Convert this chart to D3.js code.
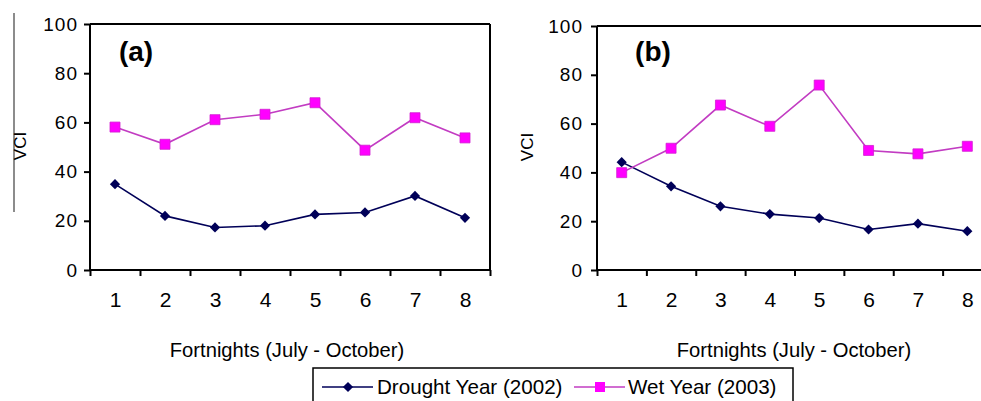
<!DOCTYPE html>
<html><head><meta charset="utf-8">
<script src="https://cdn.jsdelivr.net/npm/d3@7"></script>
<style>html,body{margin:0;padding:0;background:#fff;overflow:hidden}svg{display:block}text{font-family:Arial,"Liberation Sans",sans-serif;fill:#000}</style>
</head><body>
<script>
const categories = [1,2,3,4,5,6,7,8];
const yTicks = [0,20,40,60,80,100];
const droughtA = [34.9,22.0,17.3,18.0,22.6,23.4,30.1,21.2];
const wetA     = [58.1,51.1,61.1,63.3,68.0,48.7,61.9,53.7];
const droughtB = [44.2,34.3,26.1,22.9,21.3,16.6,19.0,15.9];
const wetB     = [39.9,49.9,67.6,58.9,75.8,49.0,47.6,50.7];
const panelLabels = ["(a)","(b)"];
const xTitle = "Fortnights (July - October)";
const yTitle = "VCI";
const seriesNames = ["Drought Year (2002)","Wet Year (2003)"];
const droughtColor = "#000058", wetLine = "#c23cc2", wetFill = "#ff00ff";

const svg = d3.select("body").append("svg").attr("width",981).attr("height",401);
svg.append("rect").attr("width",981).attr("height",401).attr("fill","#fff");

// stray border artifact at far left
svg.append("line").attr("x1",14).attr("x2",14).attr("y1",13).attr("y2",212)
  .attr("stroke","#666").attr("stroke-width",1.5);

const panels = [
  {x0:90, x1:490, yt:24, yb:270, drought:droughtA, wet:wetA, label:panelLabels[0], lx:136, ytx:20, ylabGap:10, yc:146},
  {x0:597, x1:992, yt:26, yb:270, drought:droughtB, wet:wetB, label:panelLabels[1], lx:653, ytx:527, ylabGap:12, yc:147}
];

const diamond = d3.symbol().type(d3.symbolSquare).size(52);
const square = d3.symbol().type(d3.symbolSquare).size(100);

panels.forEach(p => {
  const g = svg.append("g");
  const y = d3.scaleLinear().domain([0,100]).range([p.yb,p.yt]);
  const xl = d3.scaleLinear().domain([0.5,8.5]).range([p.x0,p.x1]);

  // border top & right
  g.append("line").attr("x1",p.x0).attr("x2",p.x1).attr("y1",y(100)).attr("y2",y(100)).attr("stroke","#000").attr("stroke-width",2);
  g.append("line").attr("x1",p.x1).attr("x2",p.x1).attr("y1",y(100)).attr("y2",p.yb).attr("stroke","#000").attr("stroke-width",2);

  // y axis
  const ya = g.append("g").attr("transform",`translate(${p.x0},0)`)
    .call(d3.axisLeft(y).tickValues(yTicks).tickSize(6).tickPadding(p.ylabGap-4));
  ya.selectAll("text").attr("font-size",19).attr("letter-spacing",1).attr("font-family","Arial, Liberation Sans, sans-serif").attr("fill","#000");
  ya.selectAll("line,path").attr("stroke","#000").attr("stroke-width",2);
  ya.select(".domain").attr("d",`M0,${y(100)}V${p.yb}`);

  // x axis tick marks at band boundaries
  const xa = g.append("g").attr("transform",`translate(0,${p.yb})`)
    .call(d3.axisBottom(xl).tickValues(d3.range(0.5,9,1)).tickSize(6).tickFormat(""));
  xa.selectAll("line,path").attr("stroke","#000").attr("stroke-width",2);
  xa.select(".domain").attr("d",`M${p.x0},0H${p.x1}`);
  // x labels
  const xb = g.append("g").attr("transform",`translate(0,${p.yb})`)
    .call(d3.axisBottom(xl).tickValues(categories).tickSize(0).tickPadding(22).tickFormat(d3.format("d")));
  xb.select(".domain").remove();
  xb.selectAll("text").attr("font-size",21).attr("font-family","Arial, Liberation Sans, sans-serif").attr("fill","#000");

  // titles
  g.append("text").attr("x",p.x0 + 197).attr("y",357).attr("text-anchor","middle")
    .attr("font-size",20.2).text(xTitle);
  g.append("text").attr("transform",`translate(${p.ytx+6},${p.yc}) rotate(-90)`)
    .attr("text-anchor","middle").attr("font-size",17).text(yTitle);
  g.append("text").attr("x",p.lx).attr("y",61).attr("text-anchor","middle")
    .attr("font-size",28).attr("font-weight","bold").text(p.label);

  const line = d3.line().x((d,i)=>xl(categories[i])).y(d=>y(d));
  g.append("path").datum(p.drought).attr("d",line).attr("fill","none").attr("stroke",droughtColor).attr("stroke-width",1.6);
  g.append("path").datum(p.wet).attr("d",line).attr("fill","none").attr("stroke",wetLine).attr("stroke-width",1.6);
  g.selectAll(".dm").data(p.drought).join("path").attr("d",diamond)
    .attr("transform",(d,i)=>`translate(${xl(categories[i])},${y(d)}) rotate(45)`).attr("fill",droughtColor);
  g.selectAll(".sq").data(p.wet).join("path").attr("d",square)
    .attr("transform",(d,i)=>`translate(${xl(categories[i])},${y(d)})`).attr("fill",wetFill).attr("stroke","#d020d0").attr("stroke-width",0.8);
});

// legend
const lg = svg.append("g");
lg.append("rect").attr("x",313).attr("y",368).attr("width",480).attr("height",44).attr("fill","#fff").attr("stroke","#000").attr("stroke-width",1.5);
const items = [
  {name:seriesNames[0], x:322, color:droughtColor, sym:diamond, fill:droughtColor, tx:377, rot:45},
  {name:seriesNames[1], x:574, color:wetLine, sym:square, fill:wetFill, tx:628, rot:0}
];
items.forEach(it => {
  lg.append("line").attr("x1",it.x).attr("x2",it.x+51).attr("y1",387).attr("y2",387).attr("stroke",it.color).attr("stroke-width",1.6);
  lg.append("path").attr("d",it.sym).attr("transform",`translate(${it.x+26},387) rotate(${it.rot})`).attr("fill",it.fill);
  lg.append("text").attr("x",it.tx).attr("y",394).attr("font-size",20.6).text(it.name);
});
</script>
</body></html>
